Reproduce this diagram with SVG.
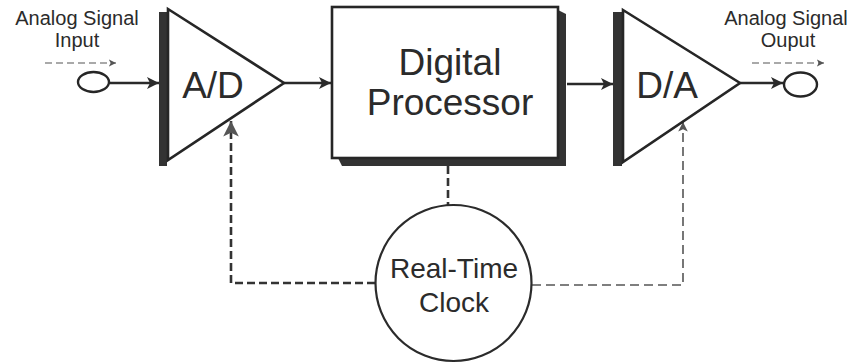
<svg xmlns="http://www.w3.org/2000/svg" width="854" height="364" viewBox="0 0 854 364">
  <style>
    .txt { font-family: "Liberation Sans", Arial, sans-serif; fill: #2b2b2b; text-anchor: middle; }
    .small { font-size: 20px; }
    .big { font-size: 37px; }
    .mid { font-size: 28px; }
    .outline { fill: #fff; stroke: #262626; stroke-width: 2.6; stroke-linejoin: miter; }
    .bar { fill: #333; }
    .solid { fill: none; stroke: #2a2a2a; stroke-width: 2.4; }
    .dash-thick { fill: none; stroke: #333; stroke-width: 2.6; stroke-dasharray: 8 4; }
    .dash-thin { fill: none; stroke: #555; stroke-width: 1.6; stroke-dasharray: 9 5; }
    .dash-hint { fill: none; stroke: #555; stroke-width: 1.2; stroke-dasharray: 7 4; }
  </style>
  <defs>
    <marker id="arrow" viewBox="0 0 10 10" refX="10" refY="5" markerWidth="5" markerHeight="5" orient="auto" markerUnits="strokeWidth">
      <path d="M0,0 L10,5 L0,10 L2.5,5 Z" fill="#2a2a2a"/>
    </marker>
    <marker id="arrowThin" viewBox="0 0 10 10" refX="10" refY="5" markerWidth="6" markerHeight="6" orient="auto" markerUnits="strokeWidth">
      <path d="M0,0 L10,5 L0,10 L2.5,5 Z" fill="#555"/>
    </marker>
  </defs>

  <!-- connectors -->
  <g id="connectors">
    <!-- signal path -->
    <line class="solid" x1="110" y1="83" x2="159" y2="83" stroke-width="3" marker-end="url(#arrow)"/>
    <line class="solid" x1="284" y1="83" x2="331" y2="83" marker-end="url(#arrow)"/>
    <line class="solid" x1="567" y1="84" x2="613" y2="84" marker-end="url(#arrow)"/>
    <line class="solid" x1="740" y1="83" x2="783" y2="83" marker-end="url(#arrow)"/>
    <!-- direction hints above input and output -->
    <line class="dash-hint" x1="45" y1="63" x2="116" y2="63" marker-end="url(#arrowThin)"/>
    <line class="dash-hint" x1="752" y1="63" x2="824" y2="63" marker-end="url(#arrowThin)"/>
    <!-- clock lines -->
    <line class="dash-thick" x1="448" y1="166" x2="448" y2="205"/>
    <polyline class="dash-thick" points="375,283 231,283 231,121" marker-end="url(#arrowThin)"/>
    <polyline class="dash-thin" points="532,285 683,285 683,122" marker-end="url(#arrowThin)"/>
  </g>

  <!-- analog input -->
  <g id="input">
    <ellipse cx="93.5" cy="82" rx="15.5" ry="10" fill="#fff" stroke="#262626" stroke-width="2.4"/>
    <text class="txt small" x="77" y="25">Analog Signal</text>
    <text class="txt small" x="77" y="47">Input</text>
  </g>

  <!-- A/D converter -->
  <g id="adc">
    <rect class="bar" x="159" y="12" width="8" height="154"/>
    <polygon class="outline" points="168,9 284,83 168,160"/>
    <text class="txt big" x="213" y="98">A/D</text>
  </g>

  <!-- digital processor -->
  <g id="processor">
    <polygon class="bar" points="338,158 558,158 558,10 566,14 566,166 342,166"/>
    <rect class="outline" x="332" y="7" width="226" height="151"/>
    <text class="txt big" x="450" y="75">Digital</text>
    <text class="txt big" x="450" y="115">Processor</text>
  </g>

  <!-- D/A converter -->
  <g id="dac">
    <rect class="bar" x="613" y="12" width="9" height="154"/>
    <polygon class="outline" points="623,10 740,83 623,162"/>
    <text class="txt big" x="667" y="98">D/A</text>
  </g>

  <!-- analog output -->
  <g id="output">
    <ellipse cx="800.5" cy="84.5" rx="16.5" ry="12" fill="#fff" stroke="#262626" stroke-width="2.4"/>
    <text class="txt small" x="786" y="25">Analog Signal</text>
    <text class="txt small" x="788" y="47">Ouput</text>
  </g>

  <!-- real-time clock -->
  <g id="clock">
    <circle cx="453.5" cy="283" r="78" fill="#fff" stroke="#2b2b2b" stroke-width="2.2"/>
    <text class="txt mid" x="454" y="278">Real-Time</text>
    <text class="txt mid" x="454" y="312">Clock</text>
  </g>
</svg>
